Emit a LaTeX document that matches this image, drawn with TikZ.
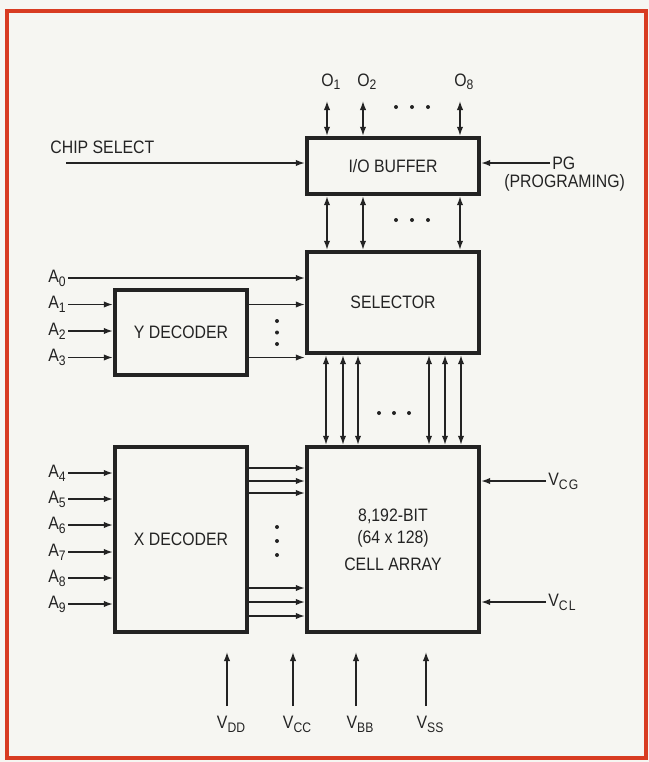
\documentclass[tikz,border=0pt]{standalone}
\usepackage{fontspec}
\setmainfont{Liberation Sans}[FakeStretch=0.88]
\usetikzlibrary{positioning,arrows.meta}
\definecolor{framered}{RGB}{216,60,34}
\definecolor{paper}{RGB}{246,246,242}
\definecolor{ink}{RGB}{35,35,35}
\newcommand{\lowidx}[1]{\raisebox{-.4ex}{\fontsize{6.9}{7}\selectfont #1}}

\begin{document}
\begin{tikzpicture}[x=.5pt,y=-.5pt,
    every node/.style={font=\fontsize{9}{11}\selectfont,text=ink,inner sep=1pt},
    blk/.style={draw=ink,line width=2.2pt,inner sep=0pt},
    sig/.style={ink,line width=.7pt,-{Latex[length=4.5pt,width=3.2pt]}},
    bus/.style={ink,line width=.7pt,{Latex[length=4.5pt,width=3.2pt]}-{Latex[length=4.5pt,width=3.2pt]}}]
    \useasboundingbox (0,0) rectangle (649,762);
    \fill[paper] (0,0) rectangle (649,762);
    \draw[framered,line width=2pt] (7,11) rectangle (646,758);

    % blocks
    \node[blk,minimum width=86pt,minimum height=28pt] (buf) at (393,166) {I/O BUFFER};
    \node[blk,minimum width=86pt,minimum height=50.5pt] (sel) at (393,302.5) {SELECTOR};
    \node[blk,minimum width=66pt,minimum height=42.5pt] (ydec) at (181,332.5) {Y DECODER};
    \node[blk,minimum width=66pt,minimum height=92.5pt] (xdec) at (181,539.5) {X DECODER};
    \node[blk,minimum width=86pt,minimum height=92.5pt,align=center] (cell) at (393,539.5)
        {8,192-BIT\\(64 x 128)\\[2.5pt]CELL ARRAY};

    % data outputs
    \foreach \n/\x in {1/327,2/363,8/460}{
        \coordinate (out\n) at (\x,101);
        \node[anchor=base west] (olbl\n) at (\x-8,86) {O\lowidx{\n}};
        \draw[bus] (out\n) -- (out\n |- buf.north);
        \draw[bus] (out\n |- buf.south) -- (out\n |- sel.north);
    }
    \foreach \x in {396,412,428}{
        \fill[ink] (\x,107) circle (1pt);
        \fill[ink] (\x,220) circle (1pt);
    }

    % chip select and programing
    \node[anchor=base west] (cs) at (48,153) {CHIP SELECT};
    \coordinate (csin) at (66,163);
    \draw[sig] (csin) -- (csin -| buf.west);
    \node[anchor=west] (pg) at (550,163) {PG};
    \node[anchor=base west] (prog) at (502,187) {(PROGRAMING)};
    \draw[sig] (pg.west) -- (pg.west -| buf.east);

    % address inputs
    \node[anchor=east] (a0) at (68,278) {A\lowidx{0}};
    \draw[sig] (a0.east) -- (a0.east -| sel.west);
    \foreach \i/\y in {1/304.5,2/331,3/357.5}{
        \node[anchor=east] (a\i) at (68,\y) {A\lowidx{\i}};
        \draw[sig] (a\i.east) -- (a\i.east -| ydec.west);
    }
    \foreach \i/\y in {4/473,5/499,6/525,7/552,8/578,9/604}{
        \node[anchor=east] (a\i) at (68,\y) {A\lowidx{\i}};
        \draw[sig] (a\i.east) -- (a\i.east -| xdec.west);
    }

    % decoder outputs
    \foreach \n in {1,3}
        \draw[sig] (ydec.east |- a\n.east) -- (sel.west |- a\n.east);
    \foreach \i/\y in {1/468,2/481,3/493,4/588,5/602,6/616}{
        \coordinate (xo\i) at (247,\y);
        \draw[sig] (xo\i -| xdec.east) -- (xo\i -| cell.west);
    }
    \foreach \y in {321,332.5,344,527,541,555}
        \fill[ink] (277,\y) circle (1pt);

    % selector to cell array
    \foreach \i/\x in {1/326,2/343,3/358,4/429,5/445,6/461}{
        \coordinate (col\i) at (\x,400);
        \draw[bus] (col\i |- sel.south) -- (col\i |- cell.north);
    }
    \foreach \x in {379,394,409}
        \fill[ink] (\x,413) circle (1pt);

    % gate voltages
    \node[anchor=west] (vcg) at (546,481) {V\lowidx{C\kern.6pt G}};
    \draw[sig] (vcg.west) -- (vcg.west -| cell.east);
    \node[anchor=west] (vcl) at (546,602) {V\lowidx{C\kern.6pt L}};
    \draw[sig] (vcl.west) -- (vcl.west -| cell.east);

    % supply pins
    \foreach \n/\x/\s in {dd/227/DD,cc/293/CC,bb/356/BB,ss/426/SS}{
        \coordinate (vt\n) at (\x,652);
        \node[anchor=north] (v\n) at (\x+4,714) {V\lowidx{\s}};
        \draw[sig,shorten <=4pt] (vt\n |- v\n.north) -- (vt\n);
    }
\end{tikzpicture}
\end{document}
